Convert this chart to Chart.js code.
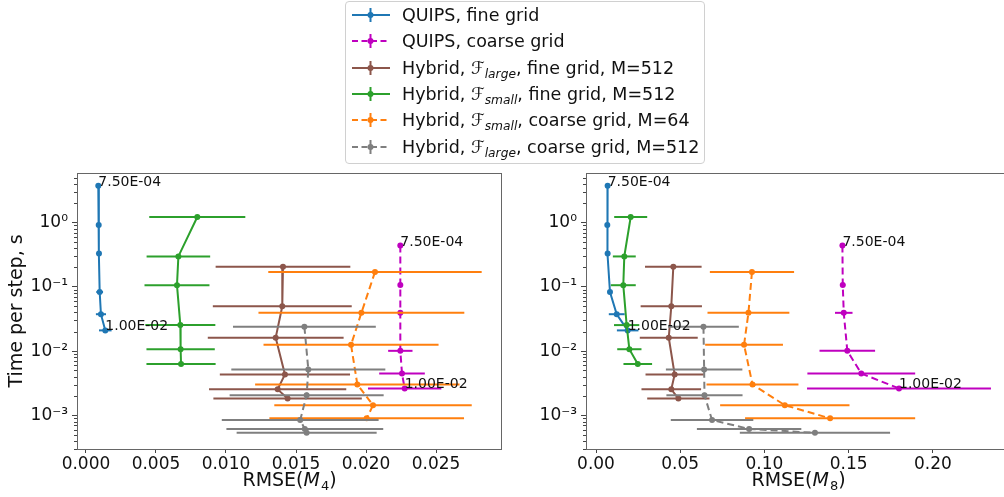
<!DOCTYPE html>
<html>
<head>
<meta charset="utf-8">
<script src="https://cdn.jsdelivr.net/npm/chart.js@4.4.1/dist/chart.umd.min.js"></script>
<style>
  body { margin: 0; width: 1004px; height: 497px; overflow: hidden; background: #fff; position: relative; font-family: "DejaVu Sans", sans-serif; }
  canvas { position: absolute; top: 0; }
  #chartM4 { left: 0; }
  #chartM8 { left: 500px; }
  #legend { position: absolute; left: 345px; top: 1px; width: 358px; height: 161px; border: 1px solid #d0d0d0; border-radius: 4px; background: rgba(255,255,255,0.85); z-index: 2; }
  .row { position: absolute; left: 0; height: 26.3px; line-height: 26.3px; font-size: 17.5px; color: #111; white-space: nowrap; }
  .row svg { position: absolute; left: 5px; top: 3px; }
  .row span.txt { position: absolute; left: 56px; }
  .cal { font-style: italic; }
  sub { font-size: 70%; font-style: italic; vertical-align: -0.3em; line-height: 0; }
</style>
</head>
<body>
<canvas id="chartM4" width="505" height="497"></canvas>
<canvas id="chartM8" width="520" height="497"></canvas>
<div id="legend"></div>
<script>
// dt annotations on the QUIPS curves (first and last run)
const dtLabels = ["7.50E-04", "1.00E-02"];

// ticks
const m4Ticks = [0.0, 0.005, 0.01, 0.015, 0.02, 0.025];
const m8Ticks = [0.0, 0.05, 0.1, 0.15, 0.2];
const timeTicks = [1e-3, 1e-2, 1e-1, 1];

// QUIPS, fine grid
const quipsFineTime = [3.75, 0.92, 0.33, 0.083, 0.0375, 0.021];
const quipsFineM4 = [0.00088, 0.00091, 0.00093, 0.00098, 0.00107, 0.00138];
const quipsFineM4Err = [0.00003, 0.00005, 0.00007, 0.00024, 0.00036, 0.00045];
const quipsFineM8 = [0.0069, 0.0067, 0.0069, 0.0083, 0.0123, 0.0188];
const quipsFineM8Err = [0.0003, 0.0005, 0.0006, 0.001, 0.0047, 0.0064];

// QUIPS, coarse grid
const quipsCoarseTime = [0.438, 0.107, 0.0394, 0.0101, 0.00448, 0.00263];
const quipsCoarseM4 = [0.02245, 0.02245, 0.02245, 0.02245, 0.02257, 0.02276];
const quipsCoarseM4Err = [0.00003, 0.00005, 0.0001, 0.00087, 0.00163, 0.00262];
const quipsCoarseM8 = [0.1463, 0.1465, 0.1471, 0.1492, 0.1575, 0.1799];
const quipsCoarseM8Err = [0.0005, 0.0015, 0.0052, 0.0165, 0.032, 0.0546];

// Hybrid, F_large, fine grid, M=512
const largeFineTime = [0.2055, 0.0498, 0.0162, 0.00433, 0.00254, 0.00183];
const largeFineM4 = [0.01407, 0.01402, 0.01355, 0.01421, 0.01369, 0.0144];
const largeFineM4Err = [0.00481, 0.00496, 0.00485, 0.00465, 0.0049, 0.0053];
const largeFineM8 = [0.0459, 0.0447, 0.0432, 0.0467, 0.0447, 0.0489];
const largeFineM8Err = [0.0168, 0.0182, 0.0172, 0.0173, 0.0177, 0.0185];

// Hybrid, F_small, fine grid, M=512
const smallFineTime = [1.22, 0.297, 0.106, 0.0254, 0.0107, 0.0063];
const smallFineM4 = [0.00795, 0.0066, 0.0065, 0.00674, 0.00676, 0.00679];
const smallFineM4Err = [0.00343, 0.00227, 0.00232, 0.0025, 0.00244, 0.00247];
const smallFineM8 = [0.0206, 0.0168, 0.0162, 0.0182, 0.0198, 0.0248];
const smallFineM8Err = [0.0098, 0.0068, 0.0074, 0.0075, 0.0072, 0.0085];

// Hybrid, F_small, coarse grid, M=64
const smallCoarseTime = [0.170, 0.0394, 0.01253, 0.00303, 0.00144, 0.0009];
const smallCoarseM4 = [0.02064, 0.01967, 0.01893, 0.01938, 0.0205, 0.02005];
const smallCoarseM4Err = [0.00762, 0.00735, 0.00625, 0.0073, 0.00705, 0.00695];
const smallCoarseM8 = [0.0926, 0.0905, 0.0879, 0.0929, 0.1121, 0.139];
const smallCoarseM8Err = [0.025, 0.0243, 0.0231, 0.0273, 0.0384, 0.0505];

// Hybrid, F_large, coarse grid, M=512
const largeCoarseTime = [0.0239, 0.00516, 0.00206, 0.000847, 0.000616, 0.000535];
const largeCoarseM4 = [0.0156, 0.01588, 0.01576, 0.0153, 0.01563, 0.01576];
const largeCoarseM4Err = [0.0051, 0.0055, 0.0055, 0.0056, 0.0056, 0.005];
const largeCoarseM8 = [0.0638, 0.0642, 0.0644, 0.0689, 0.0909, 0.130];
const largeCoarseM8Err = [0.021, 0.0227, 0.0226, 0.0245, 0.031, 0.0446];

const series = [
  { label: "QUIPS, fine grid", color: "#1f77b4", dashed: false, annotate: true,
    time: quipsFineTime, m4: quipsFineM4, m4Err: quipsFineM4Err, m8: quipsFineM8, m8Err: quipsFineM8Err },
  { label: "QUIPS, coarse grid", color: "#bf00bf", dashed: true, annotate: true,
    time: quipsCoarseTime, m4: quipsCoarseM4, m4Err: quipsCoarseM4Err, m8: quipsCoarseM8, m8Err: quipsCoarseM8Err },
  { label: 'Hybrid, <span class="cal">ℱ</span><sub>large</sub>, fine grid, M=512', color: "#8c564b", dashed: false,
    time: largeFineTime, m4: largeFineM4, m4Err: largeFineM4Err, m8: largeFineM8, m8Err: largeFineM8Err },
  { label: 'Hybrid, <span class="cal">ℱ</span><sub>small</sub>, fine grid, M=512', color: "#2ca02c", dashed: false,
    time: smallFineTime, m4: smallFineM4, m4Err: smallFineM4Err, m8: smallFineM8, m8Err: smallFineM8Err },
  { label: 'Hybrid, <span class="cal">ℱ</span><sub>small</sub>, coarse grid, M=64', color: "#ff7f0e", dashed: true,
    time: smallCoarseTime, m4: smallCoarseM4, m4Err: smallCoarseM4Err, m8: smallCoarseM8, m8Err: smallCoarseM8Err },
  { label: 'Hybrid, <span class="cal">ℱ</span><sub>large</sub>, coarse grid, M=512', color: "#7f7f7f", dashed: true,
    time: largeCoarseTime, m4: largeCoarseM4, m4Err: largeCoarseM4Err, m8: largeCoarseM8, m8Err: largeCoarseM8Err },
];

const FONT = "DejaVu Sans";
const DASH = [7, 4];
const AREA_TOP = 173, AREA_BOTTOM = 449, H = 497;

const SUP = { "-": "⁻", "0": "⁰", "1": "¹", "2": "²", "3": "³", "4": "⁴" };
const sup = (n) => String(n).split("").map((c) => SUP[c]).join("");

// legend
const legend = document.getElementById("legend");
series.forEach((s, i) => {
  const row = document.createElement("div");
  row.className = "row";
  row.style.top = (i * 26.3) + "px";
  row.style.width = "100%";
  const dash = s.dashed ? 'stroke-dasharray="6 3.5"' : "";
  row.innerHTML =
    '<svg width="40" height="20">' +
    '<line x1="1" y1="10" x2="39" y2="10" stroke="' + s.color + '" stroke-width="2" ' + dash + '/>' +
    '<line x1="19.5" y1="3" x2="19.5" y2="17" stroke="' + s.color + '" stroke-width="2"/>' +
    '<circle cx="19.5" cy="10" r="3" fill="' + s.color + '"/></svg>' +
    '<span class="txt">' + s.label + "</span>";
  legend.appendChild(row);
});

// error bars, annotations, frame, minor ticks and axis titles
const decor = {
  id: "decor",
  beforeDatasetDraw(chart, args) {
    const ds = chart.data.datasets[args.index];
    const { ctx, chartArea } = chart;
    const xs = chart.scales.x, ys = chart.scales.y;
    ctx.save();
    ctx.beginPath();
    ctx.rect(chartArea.left, chartArea.top, chartArea.right - chartArea.left, chartArea.bottom - chartArea.top);
    ctx.clip();
    ctx.strokeStyle = ds.borderColor;
    ctx.lineWidth = 2;
    ctx.setLineDash([]);
    ds.data.forEach((p, j) => {
      const y = ys.getPixelForValue(p.y);
      ctx.beginPath();
      ctx.moveTo(xs.getPixelForValue(p.x - ds.errs[j]), y);
      ctx.lineTo(xs.getPixelForValue(p.x + ds.errs[j]), y);
      ctx.stroke();
    });
    ctx.restore();
  },
  afterDraw(chart, args, opts) {
    const { ctx, chartArea } = chart;
    const xs = chart.scales.x, ys = chart.scales.y;
    ctx.save();

    // dt labels
    ctx.font = "14px '" + FONT + "'";
    ctx.fillStyle = "#111";
    ctx.textAlign = "left";
    ctx.textBaseline = "alphabetic";
    chart.data.datasets.forEach((ds) => {
      if (!ds.annotate) return;
      const first = ds.data[0], last = ds.data[ds.data.length - 1];
      ctx.fillText(dtLabels[0], xs.getPixelForValue(first.x), ys.getPixelForValue(first.y));
      ctx.fillText(dtLabels[1], xs.getPixelForValue(last.x), ys.getPixelForValue(last.y));
    });

    // frame
    ctx.strokeStyle = "#666";
    ctx.lineWidth = 1;
    ctx.strokeRect(chartArea.left + 0.5, chartArea.top + 0.5, chartArea.right - chartArea.left, chartArea.bottom - chartArea.top);

    // minor log ticks
    ctx.strokeStyle = "#444";
    for (let e = -4; e <= 0; e++) {
      for (let k = 2; k <= 9; k++) {
        const v = k * Math.pow(10, e);
        if (v < ys.min || v > ys.max) continue;
        const y = Math.round(ys.getPixelForValue(v)) + 0.5;
        ctx.beginPath();
        ctx.moveTo(chartArea.left, y);
        ctx.lineTo(chartArea.left - 3, y);
        ctx.stroke();
      }
    }

    // x title: RMSE(M_n)
    ctx.fillStyle = "#111";
    const big = "19px '" + FONT + "'";
    const ital = "italic 19px '" + FONT + "'";
    const small = "13px '" + FONT + "'";
    const parts = [["RMSE(", big, 0], ["M", ital, 0], [opts.sub, small, 4], [")", big, 0]];
    let w = 0;
    parts.forEach((p) => { ctx.font = p[1]; w += ctx.measureText(p[0]).width; });
    let x = (chartArea.left + chartArea.right) / 2 - w / 2;
    const base = 486;
    parts.forEach((p) => {
      ctx.font = p[1];
      ctx.fillText(p[0], x, base + p[2]);
      x += ctx.measureText(p[0]).width + (p[0] === "M" ? 1 : 0);
    });

    // y title
    if (opts.yTitle) {
      ctx.font = big;
      ctx.translate(17, (chartArea.top + chartArea.bottom) / 2);
      ctx.rotate(-Math.PI / 2);
      ctx.textAlign = "center";
      ctx.textBaseline = "middle";
      ctx.fillText(opts.yTitle, 0, 0);
    }
    ctx.restore();
  },
};

function makePanel(id, key, sub, xMin, xMax, xTicks, digits, areaLeft, areaRight, yTitle) {
  const canvas = document.getElementById(id);
  return new Chart(canvas, {
    type: "scatter",
    data: {
      datasets: series.map((s, i) => ({
        label: s.label,
        data: s.time.map((t, j) => ({ x: s[key][j], y: t })),
        errs: s[key + "Err"],
        annotate: !!s.annotate,
        showLine: true,
        borderColor: s.color,
        backgroundColor: s.color,
        borderWidth: 2,
        borderDash: s.dashed ? DASH : [],
        pointRadius: 3,
        pointHoverRadius: 3,
        pointBorderWidth: 0,
        order: series.length - i,
      })),
    },
    options: {
      responsive: false,
      animation: false,
      devicePixelRatio: 1,
      layout: { padding: { top: AREA_TOP, right: canvas.width - areaRight, left: 0, bottom: 0 } },
      plugins: {
        legend: { display: false },
        tooltip: { enabled: false },
        decor: { sub: sub, yTitle: yTitle },
      },
      scales: {
        x: {
          type: "linear",
          min: xMin,
          max: xMax,
          afterBuildTicks: (sc) => { sc.ticks = xTicks.map((v) => ({ value: v })); },
          afterFit: (sc) => { sc.height = H - AREA_BOTTOM; },
          border: { display: false },
          grid: { drawOnChartArea: false, tickLength: 4, tickColor: "#444", tickWidth: 1 },
          ticks: {
            autoSkip: false, maxRotation: 0, padding: 1, color: "#111",
            font: { family: FONT, size: 17 },
            callback: (v) => v.toFixed(digits),
          },
        },
        y: {
          type: "logarithmic",
          min: 3.3e-4,
          max: 5.9,
          afterBuildTicks: (sc) => { sc.ticks = timeTicks.map((v) => ({ value: v })); },
          afterFit: (sc) => { sc.width = areaLeft; },
          border: { display: false },
          grid: { drawOnChartArea: false, tickLength: 5, tickColor: "#444", tickWidth: 1 },
          ticks: {
            autoSkip: false, padding: 4, color: "#111",
            font: { family: FONT, size: 17 },
            callback: (v) => "10" + sup(Math.round(Math.log10(v))),
          },
        },
      },
    },
    plugins: [decor],
  });
}

makePanel("chartM4", "m4", "4", -0.00064, 0.02964, m4Ticks, 3, 77, 501, "Time per step, s");
makePanel("chartM8", "m8", "8", -0.00594, 0.2458, m8Ticks, 2, 86, 510, null);
</script>
</body>
</html>
